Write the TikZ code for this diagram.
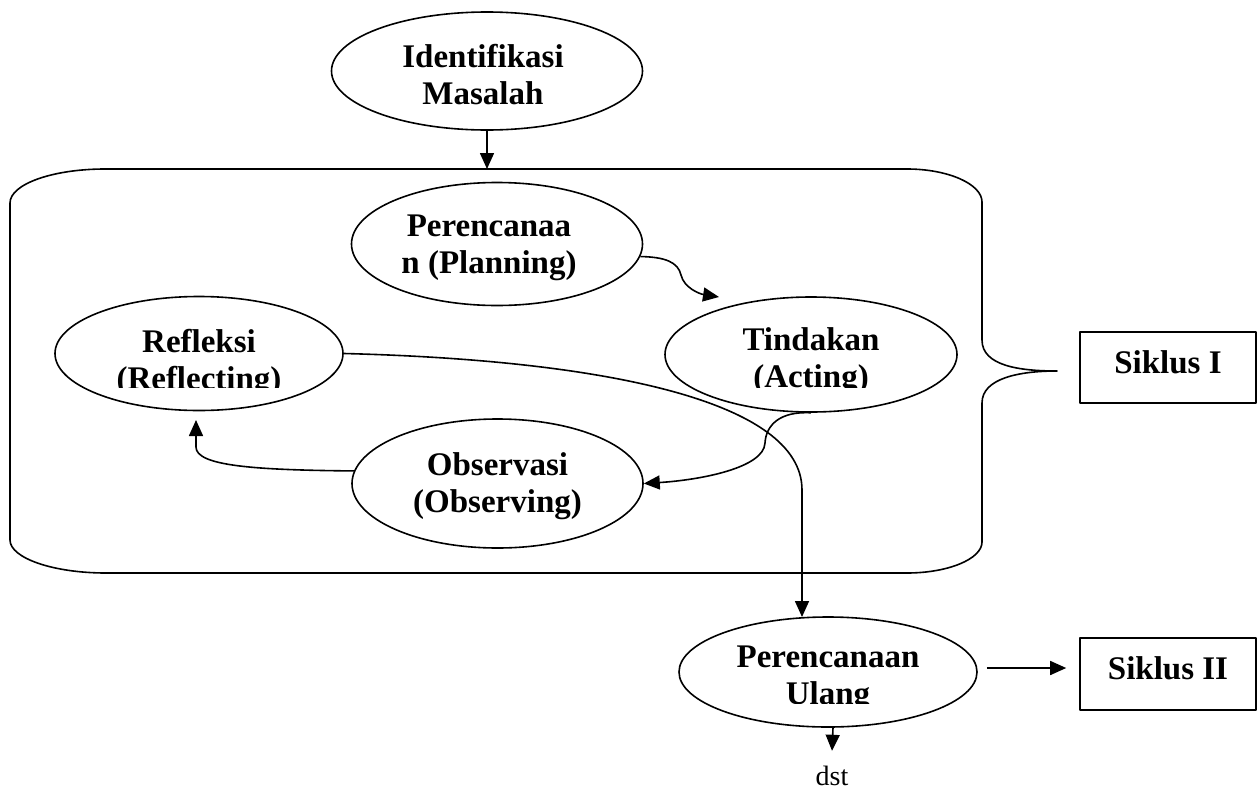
\documentclass[tikz,border=0pt]{standalone}
\usepackage{fontspec}
\setmainfont{Liberation Serif}
\usetikzlibrary{shapes.geometric,arrows.meta}
\begin{document}
\begin{tikzpicture}[x=1pt,y=-1pt,
  line width=1.6pt, line join=round,
  oval/.style={draw,ellipse,inner sep=0pt},
  txt/.style={font=\fontsize{33}{37}\selectfont\bfseries,align=center,inner sep=0pt},
  sbox/.style={draw,rectangle,minimum width=176pt,font=\fontsize{33}{37}\selectfont\bfseries,text depth=11pt},
  arr/.style={-{Triangle[length=16pt,width=14pt]}}
]
\useasboundingbox (0,0) rectangle (1258,790);

% ellipses
\node[oval,minimum width=311pt,minimum height=118pt] (ident) at (487,71) {};
\node[txt] (identt) at (483,75) {Identifikasi\\Masalah};
\node[oval,minimum width=291pt,minimum height=123pt] (plan) at (497,244) {};
\node[txt] (plant) at (489,247.5) {Perencanaa\\n (Planning)};
\node[oval,minimum width=292pt,minimum height=115pt] (act) at (811,354.5) {};
\node[oval,minimum width=288pt,minimum height=114pt] (ref) at (199,353.5) {};
\node[oval,minimum width=291pt,minimum height=129pt] (obs) at (497.5,483.5) {};
\node[txt] (obst) at (497.5,486.5) {Observasi\\(Observing)};
\node[oval,minimum width=298pt,minimum height=110pt] (ulang) at (828,672) {};

% clipped texts
\begin{scope}
\clip (0,0) rectangle (1258,387);
\node[txt] (reft) at (199,363) {Refleksi\\(Reflecting)};
\node[txt] (actt) at (811,361.5) {Tindakan\\(Acting)};
\end{scope}
\begin{scope}
\clip (600,600) rectangle (1000,703);
\node[txt] (ulangt) at (828,679) {Perencanaan\\Ulang};
\end{scope}

% boxes
\node[sbox,minimum height=71pt] (s1) at (1168,367.5) {Siklus I};
\node[sbox,minimum height=72pt] (s2) at (1168,674) {Siklus II};
\node[font=\fontsize{28}{32}\selectfont,inner sep=0pt,anchor=base] (dst) at (832,785) {dst};

% big frame with brace
\draw (10,203) .. controls (10,184) and (53,169) .. (105,169) -- (907,169)
  .. controls (948,169) and (982,184) .. (982,202) -- (982,340)
  .. controls (982,366) and (1020,371) .. (1057,371)
  .. controls (1020,371) and (982,378) .. (982,403) -- (982,542)
  .. controls (982,559) and (948,573) .. (907,573) -- (106,573)
  .. controls (53,573) and (10,558) .. (10,540) -- cycle;

% connectors
\coordinate (boxtop) at (487,169);
\draw[arr] (ident.south) -- (boxtop);

\coordinate (ptip) at (719,297);
\draw[arr] (plan.-5) .. controls (665,257) and (678,262) .. (681,275)
  .. controls (684,288) and (700,294) .. (ptip);

\draw[arr] (act.south) .. controls (780,411) and (766,425) .. (765,443)
  .. controls (764,468) and (700,480) .. (obs.east);

\coordinate (rtip) at (196,420);
\draw[arr] (obs.175) .. controls (255,470) and (196,466) .. (196,447) -- (rtip);

\coordinate (uin) at (802,617);
\draw[arr] (ref.east) .. controls (600,360) and (802,400) .. (802,490) -- (uin);

\draw[arr] ([xshift=9pt,yshift=4pt]ulang.east) -- ([xshift=-13pt,yshift=6pt]s2.west);
\draw[arr] ([xshift=5pt]ulang.south) -- ([yshift=14pt]dst.north);
\end{tikzpicture}
\end{document}
